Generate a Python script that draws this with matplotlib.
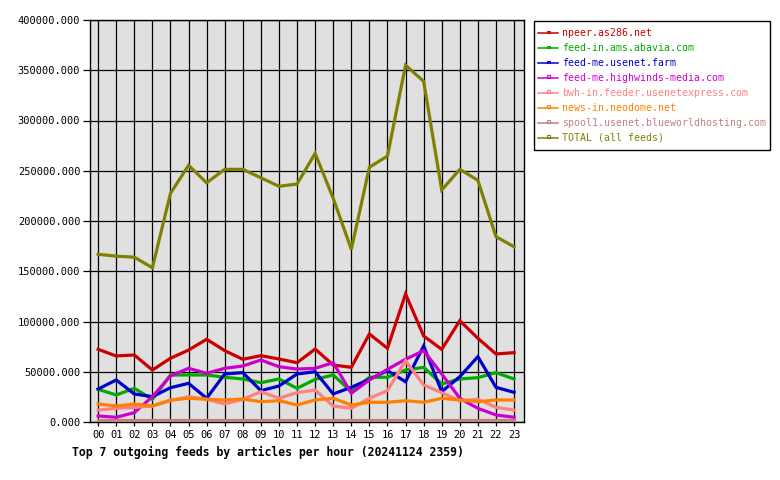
import matplotlib
matplotlib.use("Agg")
import matplotlib.pyplot as plt
from matplotlib.ticker import FuncFormatter
from matplotlib.lines import Line2D
from matplotlib.patches import Rectangle

hours = ["00","01","02","03","04","05","06","07","08","09","10","11",
         "12","13","14","15","16","17","18","19","20","21","22","23"]

npeer = [72300, 65700, 66700, 51700, 63400, 71600, 82300, 71000, 62400, 66000, 62700, 59000,
         72600, 56700, 54400, 87600, 73300, 127400, 85600, 72300, 100800, 83300, 67700, 69000]
abavia = [32500, 26900, 33500, 22600, 46800, 46800, 46800, 44500, 42800, 39100, 42800, 33500,
          42400, 46800, 30200, 44500, 44500, 51700, 54400, 37800, 42800, 44100, 49100, 42800]
farm = [32800, 41800, 27900, 25200, 34100, 38500, 23600, 47800, 49100, 31200, 35800, 47800,
        50000, 27900, 34500, 42500, 51100, 40100, 75600, 30200, 45100, 65000, 34500, 29500]
highwinds = [6000, 4700, 9300, 25200, 45800, 53400, 48500, 53400, 55700, 61700, 55000, 52700,
             53400, 59000, 28600, 41800, 52400, 62400, 71000, 47800, 23600, 13600, 7000, 4700]
bwh = [11900, 13600, 14600, 15900, 21200, 25200, 22600, 17900, 22600, 30200, 23600, 29200,
       31800, 15900, 13600, 23600, 31200, 61000, 36800, 29200, 21200, 22600, 14600, 11900]
neodome = [17900, 15900, 17900, 15900, 21900, 23600, 22600, 21900, 22900, 20200, 21200, 16900,
           21900, 23600, 16900, 19600, 19600, 21200, 19600, 23600, 21900, 20200, 21900, 21900]
spool1 = [2200, 2200, 2200, 2200, 2200, 2200, 2200, 2200, 2200, 2200, 2200, 2200,
          2200, 2200, 2200, 2200, 2200, 2200, 2200, 2200, 2200, 2200, 2200, 2200]
total = [166900, 165000, 164000, 153500, 227500, 255400, 238000, 251400, 251400, 243000, 234500, 236800,
         267300, 222600, 171800, 253400, 264700, 355000, 339000, 230800, 251400, 240500, 184400, 174400]

labels = ["npeer.as286.net", "feed-in.ams.abavia.com", "feed-me.usenet.farm",
          "feed-me.highwinds-media.com", "bwh-in.feeder.usenetexpress.com",
          "news-in.neodome.net", "spool1.usenet.blueworldhosting.com", "TOTAL (all feeds)"]
colors = ["#cc0000", "#00aa00", "#0000cc", "#cc00cc", "#ff8080", "#ff8000", "#c08080", "#808000"]
series = [npeer, abavia, farm, highwinds, bwh, neodome, spool1, total]

title = "Top 7 outgoing feeds by articles per hour (20241124 2359)"

mono = "DejaVu Sans Mono"
plt.rcParams['font.family'] = mono

W, H = 780, 480
fig = plt.figure(figsize=(W/100, H/100), dpi=100)
fig.patch.set_facecolor("white")
ax = fig.add_axes([90/W, 1-422/H, (524-90)/W, (422-20)/H])
ax.set_facecolor("#e0e0e0")

x = list(range(len(hours)))
for s, c in zip(series, colors):
    ax.plot(x, s, color=c, lw=2.3, solid_joinstyle="miter", zorder=3)

ax.set_xlim(-0.45, 23.55)
ax.set_ylim(0, 400000)
ax.set_xticks(x)
ax.set_xticklabels(hours)
ax.set_yticks(range(0, 400001, 50000))
ax.yaxis.set_major_formatter(FuncFormatter(lambda v, p: f"{v:.3f}"))
ax.grid(True, color="black", lw=0.9, zorder=1)
ax.set_axisbelow(True)
for sp in ax.spines.values():
    sp.set_color("black")
    sp.set_linewidth(1.0)
ax.tick_params(axis="y", direction="out", length=5, width=0.9, labelsize=7.5, pad=2)
ax.tick_params(axis="x", direction="out", length=3, width=0.9, labelsize=7.5, pad=3)

# manual legend (figure pixel coordinates -> fractions)
def fx(px): return px / W
def fy(py): return 1 - py / H

fig.add_artist(Rectangle((fx(534), fy(150)), fx(770) - fx(534), fy(20.5) - fy(150),
                         transform=fig.transFigure, facecolor="white",
                         edgecolor="black", lw=1.0, zorder=5))
row0, dy = 33.3, 14.9
for i, (lab, c) in enumerate(zip(labels, colors)):
    yy = row0 + i * dy
    fig.add_artist(Line2D([fx(538), fx(558)], [fy(yy), fy(yy)], color=c, lw=1.1,
                          transform=fig.transFigure, zorder=6))
    fig.add_artist(Rectangle((fx(546.5), fy(yy)), fx(549.5) - fx(546.5), fy(yy - 2.5) - fy(yy),
                             transform=fig.transFigure, facecolor="none",
                             edgecolor=c, lw=0.8, zorder=6))
    fig.text(fx(562), fy(yy), lab, color=c, fontsize=7.15, va="center", ha="left", zorder=7)

fig.text(72/W, 1-452/H, title, fontsize=8.3, fontweight="bold", va="center", ha="left")

fig.savefig("out.png", dpi=100)
